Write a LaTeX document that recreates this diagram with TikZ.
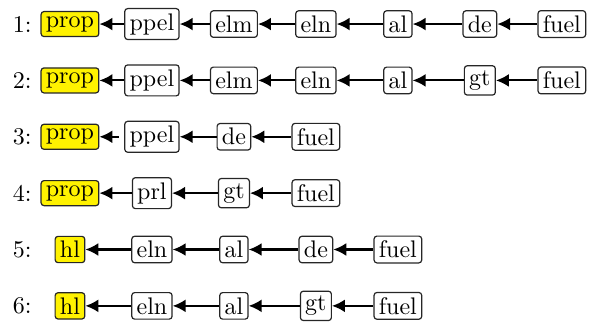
\documentclass[tikz,border=0pt]{standalone}
\usepackage{amsmath, amssymb}
\usepackage[usenames,dvipsnames]{xcolor}
\usepackage{tikz}
\usetikzlibrary{calc,arrows.meta}

\begin{document}
\begin{tikzpicture}[scale=1]
\def\cBox{black!85}
\def\cGoal{yellow}
\def\dx{1.2}
\def\dy{0.825}
\def\lx{-0.7}
\tikzset{
  blk/.style={draw=\cBox, rounded corners=1.2pt, inner sep=2pt, fill=white, line width=0.5pt},
  goal/.style={blk, fill=\cGoal},
  dep/.style={{Latex[length=5.4pt,width=5.4pt]}-, line width=0.9pt},
}
\useasboundingbox (-1.024,0.352) rectangle (7.70,-4.39);
% 1
\node (n1) at (\lx,0) {1:};
\node[goal] (p1) at (0,0) {prop};
\node[blk] (a1) at (\dx,0) {ppel};
\node[blk] (b1) at (2*\dx,0) {elm};
\node[blk] (c1) at (3*\dx,0) {eln};
\node[blk] (d1) at (4*\dx,0) {al};
\node[blk] (e1) at (5*\dx,0) {de};
\node[blk] (f1) at (6*\dx,0) {fuel};
\draw[dep] (p1) -- (a1);
\draw[dep] (a1) -- (b1);
\draw[dep] (b1) -- (c1);
\draw[dep] (c1) -- (d1);
\draw[dep] (d1) -- (e1);
\draw[dep] (e1) -- (f1);
% 2
\node (n2) at (\lx,-\dy) {2:};
\node[goal] (p2) at (0,-\dy) {prop};
\node[blk] (a2) at (\dx,-\dy) {ppel};
\node[blk] (b2) at (2*\dx,-\dy) {elm};
\node[blk] (c2) at (3*\dx,-\dy) {eln};
\node[blk] (d2) at (4*\dx,-\dy) {al};
\node[blk] (e2) at (5*\dx,-\dy) {gt};
\node[blk] (f2) at (6*\dx,-\dy) {fuel};
\draw[dep] (p2) -- (a2);
\draw[dep] (a2) -- (b2);
\draw[dep] (b2) -- (c2);
\draw[dep] (c2) -- (d2);
\draw[dep] (d2) -- (e2);
\draw[dep] (e2) -- (f2);
% 3
\node (n3) at (\lx,-2*\dy) {3:};
\node[goal] (p3) at (0,-2*\dy) {prop};
\node[blk] (a3) at (\dx,-2*\dy) {ppel};
\node[blk] (b3) at (2*\dx,-2*\dy) {de};
\node[blk] (c3) at (3*\dx,-2*\dy) {fuel};
\draw[dep, dashed] (p3) -- (a3);
\draw[dep] (a3) -- (b3);
\draw[dep] (b3) -- (c3);
% 4
\node (n4) at (\lx,-3*\dy) {4:};
\node[goal] (p4) at (0,-3*\dy) {prop};
\node[blk] (a4) at (\dx,-3*\dy) {prl};
\node[blk] (b4) at (2*\dx,-3*\dy) {gt};
\node[blk] (c4) at (3*\dx,-3*\dy) {fuel};
\draw[dep] (p4) -- (a4);
\draw[dep] (a4) -- (b4);
\draw[dep] (b4) -- (c4);
% 5
\node (n5) at (\lx,-4*\dy) {5:};
\node[goal] (p5) at (0,-4*\dy) {hl};
\node[blk] (a5) at (\dx,-4*\dy) {eln};
\node[blk] (b5) at (2*\dx,-4*\dy) {al};
\node[blk] (c5) at (3*\dx,-4*\dy) {de};
\node[blk] (d5) at (4*\dx,-4*\dy) {fuel};
\draw[dep] (p5) -- (a5);
\draw[dep] (a5) -- (b5);
\draw[dep] (b5) -- (c5);
\draw[dep] (c5) -- (d5);
% 6
\node (n6) at (\lx,-5*\dy) {6:};
\node[goal] (p6) at (0,-5*\dy) {hl};
\node[blk] (a6) at (\dx,-5*\dy) {eln};
\node[blk] (b6) at (2*\dx,-5*\dy) {al};
\node[blk] (c6) at (3*\dx,-5*\dy) {gt};
\node[blk] (d6) at (4*\dx,-5*\dy) {fuel};
\draw[dep] (p6) -- (a6);
\draw[dep] (a6) -- (b6);
\draw[dep] (b6) -- (c6);
\draw[dep] (c6) -- (d6);
\end{tikzpicture}
\end{document}
